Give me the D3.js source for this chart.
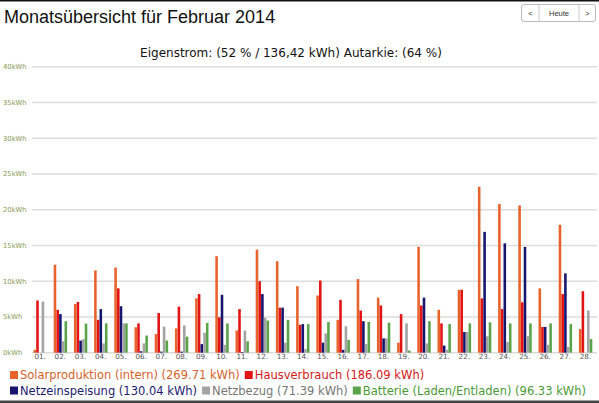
<!DOCTYPE html>
<html>
<head>
<meta charset="utf-8">
<script src="https://cdn.jsdelivr.net/npm/d3@7"></script>
<style>
  body { margin: 0; background: #fff; overflow: hidden; }
</style>
</head>
<body>
<div id="chart"></div>
<script>
// day labels on the x axis
var days = ["01.","02.","03.","04.","05.","06.","07.","08.","09.","10.",
            "11.","12.","13.","14.","15.","16.","17.","18.","19.","20.",
            "21.","22.","23.","24.","25.","26.","27.","28."]

// kWh per day
var solar    = [0.4,12.3,6.8,11.5,11.9,3.55,2.6,3.4,7.6,13.5,3.1,14.4,12.8,9.3,8.0,4.6,10.3,7.7,1.4,14.8,6.0,8.8,23.2,20.8,20.6,9.0,17.9,3.3]
var house    = [7.3,6.0,7.1,4.6,9.0,4.1,5.55,6.45,8.2,4.95,6.1,10.0,6.3,3.9,10.1,7.4,5.9,6.6,5.4,6.6,4.1,8.8,7.6,6.1,7.05,3.6,8.2,8.6]
var feedIn   = [0,5.4,1.7,6.1,6.5,0.2,0.15,0.15,1.2,8.1,0.1,8.2,6.3,4.0,1.4,0.4,4.4,2.0,0,7.7,1.0,2.9,16.9,15.3,14.8,3.6,11.1,0]
var gridDraw = [7.15,1.6,1.9,1.3,4.1,1.3,3.65,3.8,2.8,1.1,3.1,4.9,1.4,0.5,2.7,3.7,1.2,2.0,4.1,1.3,0.4,2.9,2.3,1.5,2.3,1.1,0.8,5.9]
var battery  = [0,4.4,4.07,4.1,4.1,2.4,1.7,2.25,4.15,4.1,1.6,4.5,4.6,4.0,4.3,1.8,4.3,4.2,0.3,4.4,4.0,4.1,4.25,4.1,4.1,4.1,4.0,1.9]

var yTicks = [0,5,10,15,20,25,30,35,40]

var seriesNames = ["Solarproduktion (intern) (269.71 kWh)",
                   "Hausverbrauch (186.09 kWh)",
                   "Netzeinspeisung (130.04 kWh)",
                   "Netzbezug (71.39 kWh)",
                   "Batterie (Laden/Entladen) (96.33 kWh)"]

var series = [solar, house, feedIn, gridDraw, battery]

function barColor(i) {
  if (i == 0) return "#e8622c";
  else if (i == 1) return "#e31414";
  else if (i == 2) return "#16166e";
  else if (i == 3) return "#a3a3a3";
  else return "#5ba34a";
}

function textColor(i) {
  if (i == 0) return "#d8622a";
  else if (i == 1) return "#d61818";
  else if (i == 2) return "#1c1c70";
  else if (i == 3) return "#777";
  else return "#4a9a36";
}

var svg = d3.select("#chart").append("svg")
  .attr("width", 599)
  .attr("height", 403)

// top border line and bottom dark band
svg.append("rect").attr("x", 0).attr("y", 0).attr("width", 599).attr("height", 1.5).style("fill", "#111")
svg.append("rect").attr("x", 0).attr("y", 400.5).attr("width", 599).attr("height", 3).style("fill", "#444")

// title
svg.append("text")
  .attr("x", 4)
  .attr("y", 23)
  .style("font-family", "'Liberation Sans', Arial, sans-serif")
  .style("font-size", "18px")
  .style("fill", "#111")
  .text("Monatsübersicht für Februar 2014")

// navigation buttons  < | Heute | >
var nav = svg.append("g")
nav.append("rect")
  .attr("x", 521.5).attr("y", 4.5).attr("width", 74).attr("height", 17)
  .attr("rx", 2.5)
  .style("fill", "#fff").style("stroke", "#bbb")
nav.append("line").attr("x1", 539).attr("x2", 539).attr("y1", 5).attr("y2", 21).style("stroke", "#ccc")
nav.append("line").attr("x1", 579).attr("x2", 579).attr("y1", 5).attr("y2", 21).style("stroke", "#ccc")
var navLabels = [["<", 530.5], ["Heute", 559], [">", 587.5]]
for (var i = 0; i < navLabels.length; i++) {
  nav.append("text")
    .attr("x", navLabels[i][1])
    .attr("y", 16)
    .attr("text-anchor", "middle")
    .style("font-family", "'Liberation Sans', Arial, sans-serif")
    .style("font-size", "7.5px")
    .style("fill", "#333")
    .text(navLabels[i][0])
}

// subtitle
svg.append("text")
  .attr("x", 291)
  .attr("y", 56.5)
  .attr("text-anchor", "middle")
  .style("font-family", "'DejaVu Sans', Verdana, sans-serif")
  .style("font-size", "12px")
  .style("fill", "#111")
  .text("Eigenstrom: (52 % / 136,42 kWh) Autarkie: (64 %)")

// scales
var yScale = d3.scaleLinear()
  .domain([0, 40])
  .range([352.7, 66.7])

var xScale = d3.scaleBand()
  .domain(days)
  .range([30, 595.6])

var innerScale = d3.scaleBand()
  .domain(d3.range(5))
  .range([-6.6, 6.8])
  .paddingInner(0.05)

// grid lines with kWh labels
var grid = svg.append("g")
for (var i = 0; i < yTicks.length; i++) {
  grid.append("line")
    .attr("x1", 32)
    .attr("x2", 597)
    .attr("y1", yScale(yTicks[i]))
    .attr("y2", yScale(yTicks[i]))
    .style("stroke", "#ddd")
    .style("stroke-width", 1.5)

  grid.append("text")
    .attr("x", 3)
    .attr("y", yScale(yTicks[i]))
    .attr("dy", "0.35em")
    .style("font-family", "'DejaVu Sans', Verdana, sans-serif")
    .style("font-size", "6.8px")
    .style("fill", "#8a9a55")
    .text(yTicks[i] + "kWh")
}

// x axis labels
var xAxis = d3.axisBottom(xScale).tickSize(0).tickPadding(1)
var xg = svg.append("g")
  .attr("transform", "translate(0, 353)")
  .call(xAxis)
xg.select(".domain").remove()
xg.selectAll("text")
  .style("font-family", "'DejaVu Sans', Verdana, sans-serif")
  .style("font-size", "7.2px")
  .style("fill", "#555")

// bars, one group per day
for (var s = 0; s < series.length; s++) {
  svg.append("g")
    .selectAll("rect")
    .data(series[s])
    .enter().append("rect")
    .attr("x", function(d, i) { return xScale(days[i]) + xScale.bandwidth() / 2 + innerScale(s) })
    .attr("y", function(d) { return yScale(d) })
    .attr("width", innerScale.bandwidth())
    .attr("height", function(d) { return yScale(0) - yScale(d) })
    .style("fill", barColor(s))
}

// legend, two rows
var legendRows = [[0, 1], [2, 3, 4]]
for (var r = 0; r < legendRows.length; r++) {
  var lx = 10
  var ly = 375 + r * 15.5
  for (var k = 0; k < legendRows[r].length; k++) {
    var idx = legendRows[r][k]
    svg.append("rect")
      .attr("x", lx)
      .attr("y", ly - 4)
      .attr("width", 8)
      .attr("height", 8)
      .style("fill", barColor(idx))
    var t = svg.append("text")
      .attr("x", lx + 10)
      .attr("y", ly)
      .attr("dy", "0.36em")
      .style("font-family", "'DejaVu Sans', Verdana, sans-serif")
      .style("font-size", "11.5px")
      .style("fill", textColor(idx))
      .text(seriesNames[idx])
    lx = lx + 10 + t.node().getComputedTextLength() + 5
  }
}
</script>
</body>
</html>
